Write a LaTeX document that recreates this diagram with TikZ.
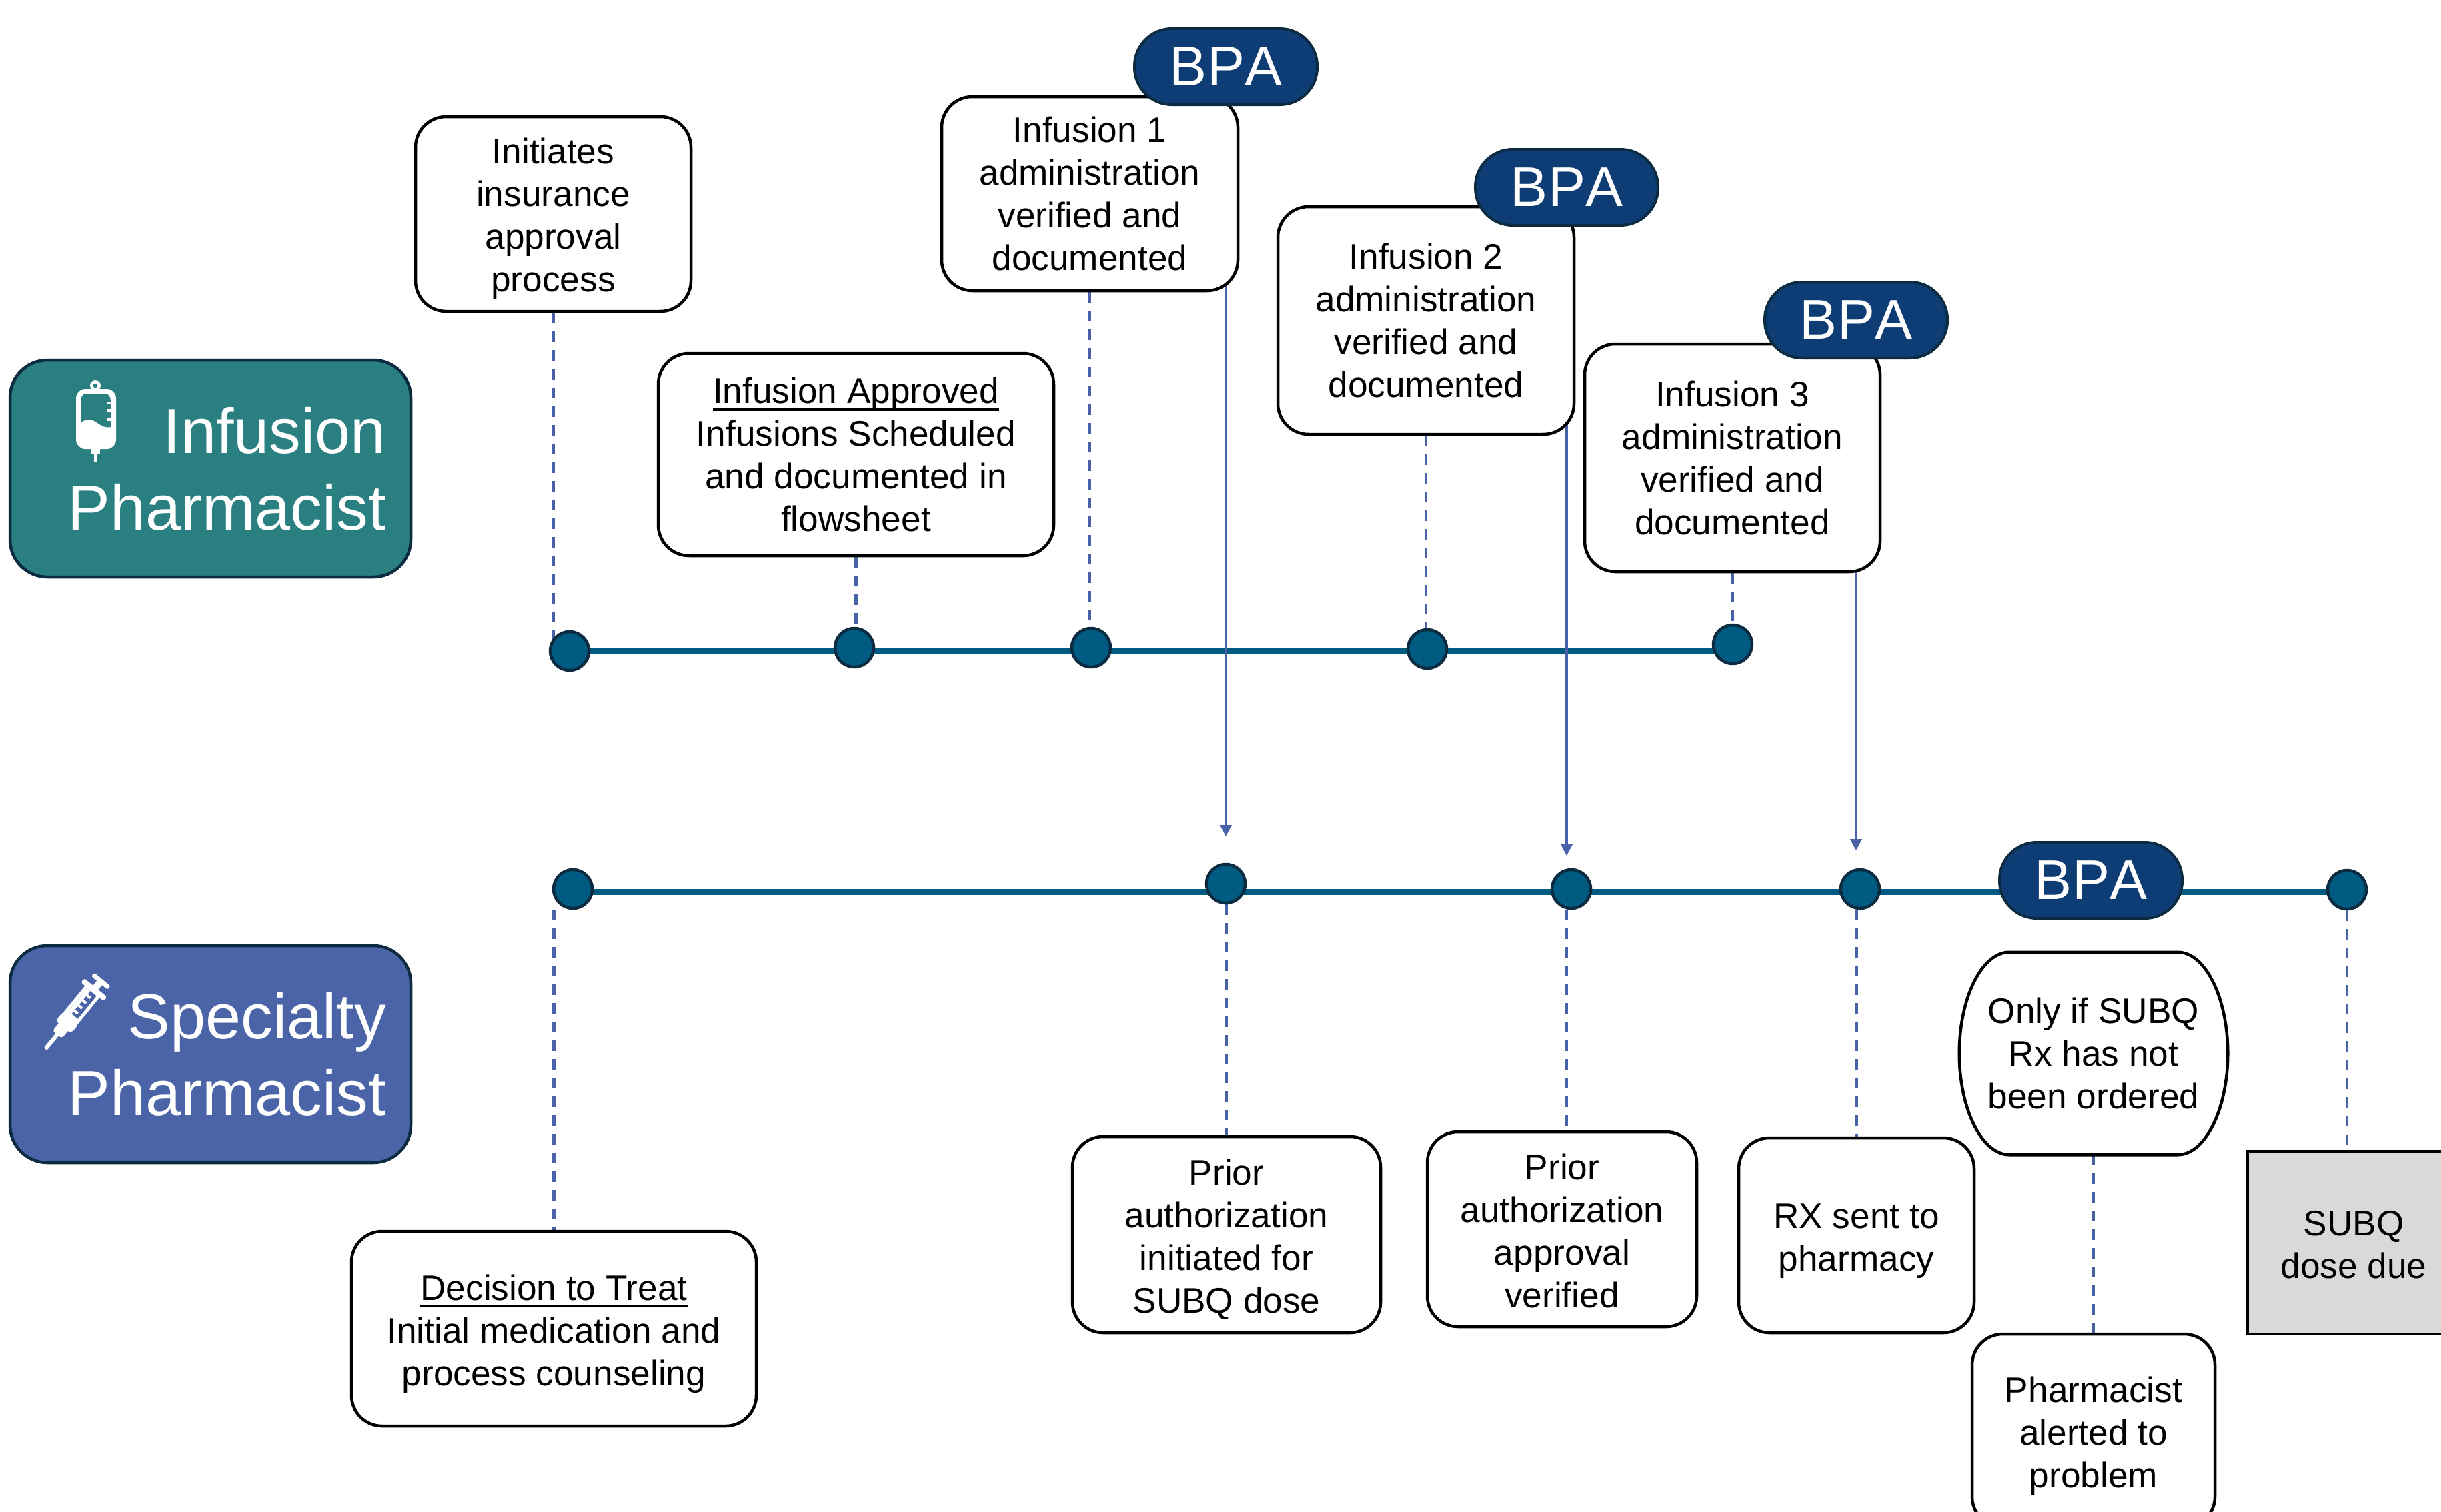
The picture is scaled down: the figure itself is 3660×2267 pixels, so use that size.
\documentclass[tikz,border=0pt]{standalone}
\usepackage{fontspec}
\setmainfont{Liberation Sans}
\usetikzlibrary{arrows.meta,backgrounds}
\definecolor{tealbox}{HTML}{2A7F80}
\definecolor{bluebox}{HTML}{4A64A7}
\definecolor{edgedark}{HTML}{0C2B40}
\definecolor{dotfill}{HTML}{005B82}
\definecolor{bpafill}{HTML}{0E3C75}
\definecolor{connblue}{HTML}{4A63A8}
\tikzset{
  x=1pt,y=-1pt,
  stepbox/.style={draw=black,line width=4.5pt,fill=white,rounded corners=46pt,align=center,inner sep=0pt,
    font=\fontsize{53.2}{64}\selectfont,text=black},
  rolebox/.style={draw=edgedark,line width=4.5pt,rounded corners=56pt,text=white,align=right,inner sep=0pt,
    minimum width=601pt,minimum height=325pt,text width=527pt,font=\fontsize{95.5}{115}\selectfont},
  bpabox/.style={draw=edgedark,line width=4pt,fill=bpafill,rounded corners=56pt,text=white,inner sep=0pt,
    minimum width=274pt,minimum height=114pt,font=\fontsize{84}{90}\selectfont\addfontfeatures{Kerning=Off}},
  evdot/.style={circle,draw=edgedark,line width=4.5pt,fill=dotfill,minimum size=58pt,inner sep=0pt},
  tline/.style={draw=dotfill,line width=9pt},
  dashconn/.style={draw=connblue,line width=4.5pt,dash pattern=on 16pt off 12pt},
  arrowconn/.style={draw=connblue,line width=3.5pt,-{Triangle[length=17pt,width=17pt]}}
}
\newcommand{\boxat}[7][]{% name, x0,y0,x1,y1, text
  \node[stepbox,#1,minimum width=\dimexpr#5pt-#3pt\relax,minimum height=\dimexpr#6pt-#4pt\relax] (#2) at ({(#3+#5)/2},{(#4+#6)/2}) {#7};}
\newcommand{\dn}[1]{\rule{0pt}{#1pt}}
\newcommand{\ulx}[1]{\sbox0{#1}\rlap{\rule[-11pt]{\wd0}{4.5pt}}\box0}
\begin{document}
\begin{tikzpicture}
\useasboundingbox (0,0) rectangle (3660,2267);
\clip (0,0) rectangle (3660,2267);

% role boxes
\node[rolebox,fill=tealbox] (infrole) at (315.5,702.5) {Infusion\\Pharmacist};
\node[rolebox,fill=bluebox] (specrole) at (315.5,1580.5) {Specialty\\Pharmacist};

% IV bag icon
\begin{scope}
  \fill[white,even odd rule] (143,578) circle (8) (143,578) circle (3.5);
  \fill[white,rounded corners=14pt] (114,583) rectangle (174,673);
  \fill[white] (137,670) rectangle (150,681);
  \fill[white] (141,680) rectangle (146,692);
  \fill[tealbox] (129,590) -- (158,590) to[out=0,in=90] (166,602) -- (166,640)
     .. controls (158,642) and (152,638) .. (143,632)
     .. controls (135,627) and (128,629) .. (121,633) -- (121,602) to[out=90,in=180] (129,590) -- cycle;
  \fill[white] (160,602) rectangle (167,606);
  \fill[white] (160,613) rectangle (167,618);
  \fill[white] (160,626) rectangle (167,631);
\end{scope}

% syringe icon
\begin{scope}[shift={(68,1573)},rotate=50.7]
  \fill[white,rounded corners=2pt] (0,-3) rectangle (34,3);
  \fill[white,rounded corners=4pt] (28,-9) rectangle (46,9);
  \fill[white,rounded corners=7pt] (42,-15) rectangle (62,15);
  \fill[white] (55,-14) rectangle (113,14);
  \fill[white,rounded corners=3pt] (111,-22) rectangle (119,22);
  \fill[white] (115,-5) rectangle (130,5);
  \fill[white,rounded corners=3pt] (128,-16) rectangle (135,16);
  \fill[bluebox] (66,-9) rectangle (110,9);
  \fill[white] (66,-9) rectangle (110,-3);
  \fill[white] (70,-3) rectangle (74,4);
  \fill[white] (80,-3) rectangle (84,4);
  \fill[white] (90,-3) rectangle (94,4);
  \fill[white] (100,-3) rectangle (104,4);
\end{scope}

% step boxes, infusion lane
\boxat{init}{623}{175}{1036}{467}{\dn{53}Initiates\\insurance\\approval\\process}
\boxat{appr}{987}{530}{1580}{833}{\ulx{Infusion Approved}\\Infusions Scheduled\\and documented in\\flowsheet}
\boxat{inf1}{1412}{145}{1856}{436}{Infusion 1\\administration\\verified and\\documented}
\boxat{inf2}{1916}{310}{2360}{651}{Infusion 2\\administration\\verified and\\documented}
\boxat{inf3}{2376}{516}{2819}{857}{Infusion 3\\administration\\verified and\\documented}

% step boxes, specialty lane
\boxat{dec}{527}{1846}{1134}{2138}{\dn{53}\ulx{Decision to Treat}\\Initial medication and\\process counseling}
\boxat{pa1}{1608}{1704}{2070}{1998}{\dn{53}Prior\\authorization\\initiated for\\SUBQ dose}
\boxat{pa2}{2140}{1697}{2544}{1989}{\dn{43}Prior\\authorization\\approval\\verified}
\boxat{rx}{2607}{1706}{2960}{1998}{\dn{53}RX sent to\\pharmacy}
\boxat[draw=none,fill=none]{only}{2940}{1430}{3338}{1729}{Only if SUBQ\\Rx has not\\been ordered}
\boxat{alert}{2957}{2000}{3321}{2290}{\dn{53}Pharmacist\\alerted to\\problem}
\node[stepbox,rounded corners=0pt,fill=black!15,minimum width=318pt,minimum height=274pt] (due) at (3529,1863) {\dn{43}SUBQ\\dose due};

% BPA badges
\node[bpabox] (bpaa) at (1838,100) {BPA};
\node[bpabox] (bpab) at (2349,281) {BPA};
\node[bpabox] (bpac) at (2783,480) {BPA};
\node[bpabox] (bpad) at (3135,1320) {BPA};

% event dots
\node[evdot] (a1) at (854,976) {};
\node[evdot] (a2) at (1281,971) {};
\node[evdot] (a3) at (1636,971) {};
\node[evdot] (a4) at (2140,973) {};
\node[evdot] (a5) at (2598,966) {};
\node[evdot] (b1) at (859,1333) {};
\node[evdot] (b2) at (1838,1325) {};
\node[evdot] (b3) at (2356,1333) {};
\node[evdot] (b4) at (2789,1333) {};
\node[evdot] (b5) at (3519,1334) {};

\coordinate (lineB) at (859,1337);
\coordinate (tipa) at (1838,1254);
\coordinate (tipb) at (2347,1283);
\coordinate (tipc) at (2783,1275);

\begin{scope}[on background layer]
  \draw[tline] (a1.center) -- (a1.center -| a5.center);
  \draw[tline] (lineB) -- (lineB -| b5.center);
  % dashed drops, infusion lane
  \draw[dashconn] (init.south) -- ([yshift=-14pt]init.south |- a1.north);
  \draw[dashconn] (appr.south) -- (appr.south |- a2.north);
  \draw[dashconn] (inf1.south) -- (inf1.south |- a3.north);
  \draw[dashconn] (inf2.south) -- (inf2.south |- a4.north);
  \draw[dashconn] (inf3.south) -- (inf3.south |- a5.north);
  % dashed drops, specialty lane
  \draw[dashconn] (dec.north |- b1.south) -- (dec.north);
  \draw[dashconn] (pa1.north |- b2.south) -- (pa1.north);
  \draw[dashconn] ([xshift=7pt]pa2.north |- b3.south) -- ([xshift=7pt]pa2.north);
  \draw[dashconn] (rx.north |- b4.south) -- (rx.north);
  \draw[dashconn] (b5.south) -- ([yshift=-10pt]b5.south |- due.north);
  \draw[dashconn] (only.south) -- (alert.north);
  % BPA arrows
  \draw[arrowconn] (bpaa.south) -- (bpaa.south |- tipa);
  \draw[arrowconn] (bpab.south) -- (bpab.south |- tipb);
  \draw[arrowconn] (bpac.south) -- (bpac.south |- tipc);
  % outline of the oval-cornered box
  \draw[draw=black,line width=4.5pt,fill=white]
    (only.west) .. controls ([yshift=82.6pt]only.west) and ([xshift=33.6pt]only.north west) .. ([xshift=75pt]only.north west)
    -- ([xshift=-75pt]only.north east)
    .. controls ([xshift=-33.6pt]only.north east) and ([yshift=82.6pt]only.east) .. (only.east)
    .. controls ([yshift=-82.6pt]only.east) and ([xshift=-33.6pt]only.south east) .. ([xshift=-75pt]only.south east)
    -- ([xshift=75pt]only.south west)
    .. controls ([xshift=33.6pt]only.south west) and ([yshift=-82.6pt]only.west) .. (only.west) -- cycle;
\end{scope}
\end{tikzpicture}
\end{document}
